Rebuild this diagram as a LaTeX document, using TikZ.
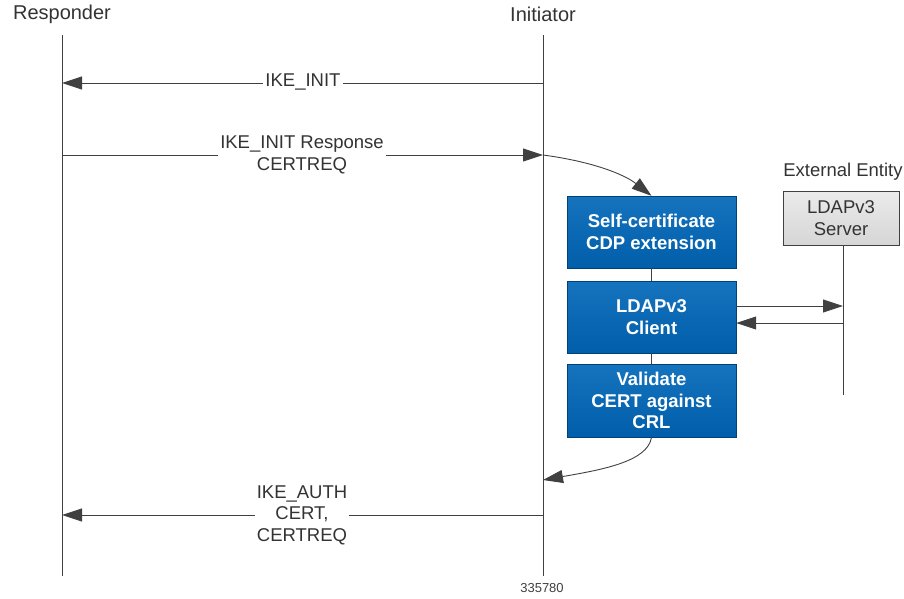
\documentclass[tikz,border=0pt]{standalone}
\usepackage{fontspec}
\setmainfont{Liberation Sans}
\usetikzlibrary{arrows.meta}

\definecolor{lineGray}{RGB}{64,64,64}
\definecolor{boxBlue}{RGB}{0,94,170}
\definecolor{boxBlueLight}{RGB}{22,115,190}
\definecolor{boxGray}{RGB}{214,214,214}

\tikzset{
    msg/.style = {draw=lineGray, line width=0.9pt, -{Triangle[length=20pt, width=13pt]}},
    life/.style = {draw=lineGray, line width=0.9pt},
    lbl/.style = {font=\fontsize{18.5}{21.5}\selectfont, text=black!80, align=center, fill=white, inner sep=2pt},
    head/.style = {font=\fontsize{20}{23}\selectfont, text=black!80},
    stepbox/.style = {draw=boxBlue!70!black, top color=boxBlueLight, bottom color=boxBlue,
        minimum width=169pt, minimum height=72pt, text=white, align=center,
        font=\fontsize{18.5}{21.5}\selectfont\bfseries},
}

\begin{document}
\begin{tikzpicture}[x=1pt, y=-1pt]
                \useasboundingbox (0,0) rectangle (904,599);
                % lifelines
                \node (resp) at (62,14) [head] {Responder};
                \node (init) at (543,14) [head] {Initiator};
                \coordinate (respEnd) at (62,576);
                \coordinate (initEnd) at (543,576);
                \draw[life] (62,35) -- (respEnd);
                \draw[life] (543,35) -- (initEnd);

                % messages
                \coordinate (initA) at (543,83);
                \coordinate (respA) at (62,83);
                \draw[msg] (initA) -- (respA);
                \node (ikeInit) at (303,82) [lbl] {IKE\_INIT};

                \coordinate (respB) at (62,155);
                \coordinate (initB) at (543,155);
                \draw[msg] (respB) -- (initB);
                \node (ikeResp) at (302,155) [lbl] {IKE\_INIT Response\\CERTREQ};

                % initiator steps
                \node (selfCert) at (651.5,232) [stepbox] {Self-certificate\\CDP extension};
                \node (ldapClient) at (651.5,317) [stepbox] {LDAPv3\\Client};
                \node (validate) at (651.5,400.5) [stepbox, minimum height=73pt] {Validate\\CERT against\\CRL};
                \draw[life] (selfCert) -- (ldapClient);
                \draw[life] (ldapClient) -- (validate);

                \draw[msg] (initB) .. controls (595,162) and (625,175) .. (selfCert.north);

                % external entity
                \node (extLbl) at (843,172) [lbl] {External Entity};
                \node (server) at (841,218) [draw=lineGray, top color=boxGray!50, bottom color=boxGray,
                    minimum width=116pt, minimum height=54pt, align=center,
                    font=\fontsize{18.5}{21.5}\selectfont, text=black!80] {LDAPv3\\Server};
                \coordinate (serverEnd) at (843,395);
                \draw[life] (server.south -| serverEnd) -- (serverEnd);

                \coordinate (srvIn) at (843,306);
                \coordinate (srvOut) at (843,323);
                \draw[msg] (ldapClient.east |- srvIn) -- (srvIn);
                \draw[msg] (srvOut) -- (ldapClient.east |- srvOut);

                \coordinate (initC) at (543,480);
                \draw[msg] (validate.south) .. controls (648,462) and (600,470) .. (initC);

                \coordinate (initD) at (543,515);
                \coordinate (respD) at (62,515);
                \draw[msg] (initD) -- (respD);
                \node (ikeAuth) at (302,515) [lbl] {IKE\_AUTH\\CERT,\\CERTREQ};

                \node (figNum) at (542,588) [font=\fontsize{13}{15}\selectfont, text=black!75] {335780};
            \end{tikzpicture}
\end{document}
